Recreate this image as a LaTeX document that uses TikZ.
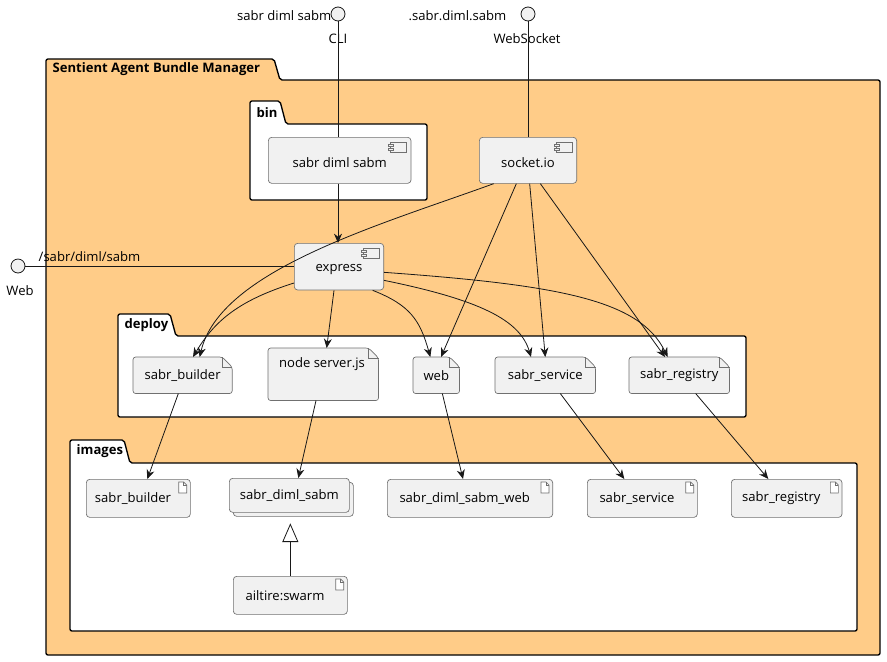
\documentclass[tikz,border=0pt]{standalone}
\usepackage{fontspec}
\setmainfont{Open Sans}
\usetikzlibrary{arrows.meta}
\usetikzlibrary{positioning}
\definecolor{pkgfill}{HTML}{FFCC88}
\definecolor{boxfill}{HTML}{F1F1F1}
\definecolor{linecol}{HTML}{181818}
\definecolor{boxline}{HTML}{707070}
\tikzset{
  % general text size
  every node/.style = {font = \fontsize{9.8pt}{11pt}\selectfont, text = black},
  link/.style = {draw = linecol, line width = 0.6pt},
  arr/.style = {link, -{Stealth[length = 7pt, width = 6pt]}},
  % provided interface
  iface/.style = {circle, draw = linecol, fill = boxfill, line width = 0.6pt,
    minimum size = 10.5pt, inner sep = 0},
  % component symbol
  comp/.style = {draw = boxline, fill = boxfill, line width = 0.5pt,
    rounded corners = 2.5pt, inner sep = 0, anchor = north west},
  % artifact symbol
  artf/.style = {comp},
  % file symbol, drawn by \dogear
  filebox/.style = {inner sep = 0, anchor = north west},
  pkg/.style = {draw = black, line width = 1pt, rounded corners = 1.5pt},
  pkgtitle/.style = {font = \bfseries\fontsize{9.8pt}{11pt}\selectfont, anchor = west}
}
% small file icon in the top right corner of a box
\newcommand{\fileicon}[1]{%
  \draw[boxline, line width = 0.5pt, fill = white]
    ([shift = {(-12,3)}]#1.north east) -- ++(5,0) -- ++(3,3) -- ++(0,8)
    -- ++(-8,0) -- cycle;
  \draw[boxline, line width = 0.5pt]
    ([shift = {(-7,3)}]#1.north east) -- ++(0,3) -- ++(3,0);}
% small component icon in the top right corner of a box
\newcommand{\compicon}[1]{%
  \draw[boxline, line width = 0.5pt, fill = boxfill]
    ([shift = {(-21,5)}]#1.north east) rectangle ++(16,10);
  \draw[boxline, line width = 0.5pt, fill = boxfill]
    ([shift = {(-23,7)}]#1.north east) rectangle ++(5,2)
    ([shift = {(-23,11)}]#1.north east) rectangle ++(5,2);}
% file outline with a folded corner
\newcommand{\dogear}[1]{%
  \draw[boxline, line width = 0.5pt, fill = boxfill, rounded corners = 2pt]
    (#1.south west) -- (#1.north west) -- ([shift = {(-10,0)}]#1.north east)
    -- ([shift = {(0,10)}]#1.north east) -- (#1.south east) -- cycle;
  \draw[boxline, line width = 0.5pt]
    ([shift = {(-10,0)}]#1.north east) -- ++(0,10) -- ++(10,0);}
\begin{document}
\begin{tikzpicture}[x = 0.75pt, y = -0.75pt]
  \useasboundingbox (0,0) rectangle (887,661);

  % packages
  \draw[pkg, fill = pkgfill] (46,80) -- (46,59) -- (274,59) -- (280,80)
    -- (880,80) -- (880,655) -- (46,655) -- cycle;
  \node[pkgtitle] (title) at (48,69.5) {Sentient Agent Bundle Manager};
  \draw[pkg, fill = white] (250,124) -- (250,101) -- (280,101) -- (286,124)
    -- (427,124) -- (427,200) -- (250,200) -- cycle;
  \node[pkgtitle] (bintitle) at (252,112.5) {bin};
  \draw[pkg, fill = white] (118,336) -- (118,314) -- (170,314) -- (176,336)
    -- (746,336) -- (746,417) -- (118,417) -- cycle;
  \node[pkgtitle] (deploytitle) at (120,325) {deploy};
  \draw[pkg, fill = white] (70,463) -- (70,440) -- (124,440) -- (130,463)
    -- (857,463) -- (857,631) -- (70,631) -- cycle;
  \node[pkgtitle] (imagestitle) at (72,451.5) {images};

  % interfaces
  \node[iface] (cli) at (338,14) {};
  \node[anchor = east] at (336,16) {sabr diml sabm};
  \node at (338,39) {CLI};
  \node[iface] (ws) at (528,14) {};
  \node[anchor = east] at (511,16) {.sabr.diml.sabm};
  \node at (527,39) {WebSocket};
  \node[iface] (webif) at (18,266) {};
  \node at (20,291) {Web};

  % components
  \node[comp, minimum width = 107pt, minimum height = 34.5pt] (bincmd) at (268,137) {};
  \node at ([yshift = -2pt]bincmd.center) {sabr diml sabm};
  \compicon{bincmd}
  \node[comp, minimum width = 73pt, minimum height = 34.5pt] (socket) at (479,137) {};
  \node at ([yshift = -2pt]socket.center) {socket.io};
  \compicon{socket}
  \node[comp, minimum width = 67pt, minimum height = 35pt] (express) at (294,243) {};
  \node at ([yshift = -2pt]express.center) {express};
  \compicon{express}

  % deploy files
  \node[filebox, minimum width = 74pt, minimum height = 27pt] (dbuilder) at (133,357) {};
  \dogear{dbuilder}
  \node at (dbuilder.center) {sabr\_builder};
  \node[filebox, minimum width = 82.5pt, minimum height = 39pt] (dserver) at (268,348) {};
  \dogear{dserver}
  \node at (322,364) {node server.js};
  \node[filebox, minimum width = 34.5pt, minimum height = 27pt] (dweb) at (413,357) {};
  \dogear{dweb}
  \node at (dweb.center) {web};
  \node[filebox, minimum width = 75pt, minimum height = 27pt] (dservice) at (495,357) {};
  \dogear{dservice}
  \node at (dservice.center) {sabr\_service};
  \node[filebox, minimum width = 75pt, minimum height = 27pt] (dregistry) at (629,357) {};
  \dogear{dregistry}
  \node at (dregistry.center) {sabr\_registry};

  % images
  \node[artf, minimum width = 78pt, minimum height = 28.5pt] (ibuilder) at (86,479) {};
  \node at ([xshift = -4pt]ibuilder.center) {sabr\_builder};
  \fileicon{ibuilder}
  \node[artf, minimum width = 90pt, minimum height = 25.5pt] (istackb) at (233,482) {};
  \node[artf, minimum width = 90pt, minimum height = 25.5pt] (isabm) at (229,478) {};
  \node at (isabm.center) {sabr\_diml\_sabm};
  \node[artf, minimum width = 124pt, minimum height = 28.5pt] (iweb) at (387,479) {};
  \node at ([xshift = -4pt]iweb.center) {sabr\_diml\_sabm\_web};
  \fileicon{iweb}
  \node[artf, minimum width = 82.5pt, minimum height = 28.5pt] (iservice) at (587,479) {};
  \node at ([xshift = -4pt]iservice.center) {sabr\_service};
  \fileicon{iservice}
  \node[artf, minimum width = 83pt, minimum height = 28.5pt] (iregistry) at (731,479) {};
  \node at ([xshift = -4pt]iregistry.center) {sabr\_registry};
  \fileicon{iregistry}
  \node[artf, minimum width = 85.5pt, minimum height = 28.5pt] (swarm) at (233,576) {};
  \node at ([xshift = -4pt]swarm.center) {ailtire:swarm};
  \fileicon{swarm}

  % connectors
  \draw[link] (cli) -- (bincmd.north -| cli);
  \draw[arr] (bincmd.south -| cli) -- (express.north -| cli);
  \draw[link] (ws) -- (socket.north -| ws);
  \draw[link] (webif) -- (express.west |- webif);
  \node[anchor = south west] at (34,266) {/sabr/diml/sabm};

  \draw[arr] ([xshift = 11pt]socket.south west) .. controls (380,225) and (220,270) .. ([xshift = 50pt]dbuilder.north west);
  \draw[arr] ([xshift = 28pt]socket.south west) -- ([xshift = 21pt]dweb.north west);
  \draw[arr] ([xshift = 38pt]socket.south west) -- (dservice.north);
  \draw[arr] ([xshift = 46pt]socket.south west) -- ([xshift = 27pt]dregistry.north west);

  \draw[arr] ([yshift = -30pt]express.north west) .. controls (240,300) and (215,320) .. ([xshift = 45pt]dbuilder.north west);
  \draw[arr] ([xshift = 30pt]express.south west) -- ([xshift = 44pt]dserver.north west);
  \draw[arr] ([xshift = 59pt]express.south west) .. controls (410,305) and (420,320) .. ([xshift = 13pt]dweb.north west);
  \draw[arr] ([yshift = -28pt]express.north east) .. controls (480,300) and (520,320) .. ([xshift = 27pt]dservice.north west);
  \draw[arr] ([yshift = -22pt]express.north east) .. controls (560,285) and (640,300) .. ([xshift = 29pt]dregistry.north west);

  \draw[arr] ([xshift = 34pt]dbuilder.south west) -- ([xshift = 46pt]ibuilder.north west);
  \draw[arr] ([xshift = 36pt]dserver.south west) -- ([xshift = 52pt]isabm.north west);
  \draw[arr] ([xshift = 22pt]dweb.south west) -- ([xshift = 57pt]iweb.north west);
  \draw[arr] ([xshift = 49pt]dservice.south west) -- ([xshift = 28pt]iservice.north west);
  \draw[arr] ([xshift = 50pt]dregistry.south west) -- ([xshift = 28pt]iregistry.north west);
  \draw[link, -{Triangle[open, length = 14pt, width = 12pt]}] ([xshift = 43pt]swarm.north west) -- ([xshift = 46pt, yshift = -8pt]isabm.south west);
\end{tikzpicture}
\end{document}
